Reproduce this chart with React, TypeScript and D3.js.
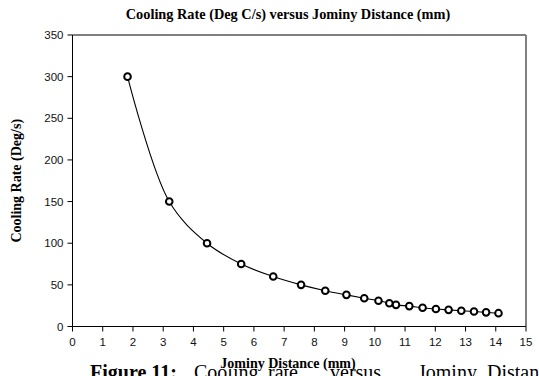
import React from "react";
import * as d3 from "d3";

const distances = [1.82, 3.2, 4.45, 5.58, 6.64, 7.56, 8.36, 9.06, 9.65, 10.12, 10.48, 10.7, 11.14, 11.58, 12.02, 12.44, 12.86, 13.28, 13.68, 14.09];
const rates = [300, 150, 100, 75, 60, 50, 43, 38, 34, 31, 28, 26, 24.5, 22.5, 21, 20, 19, 18, 17, 16];
const xTicks = d3.range(0, 16, 1);
const yTicks = d3.range(0, 351, 50);

const title = "Cooling Rate (Deg C/s) versus Jominy Distance (mm)";
const xLabel = "Jominy Distance (mm)";
const yLabel = "Cooling Rate (Deg/s)";
const captionBold = "Figure 11:";
const captionWords = ["Cooling", "rate", "versus", "Jominy", "Distance"];

export default function App() {
  const W = 539, H = 376;
  const left = 72.5, right = 526, top = 35, bottom = 326.5;
  const x = d3.scaleLinear().domain([0, 15]).range([left, right]);
  const y = d3.scaleLinear().domain([0, 350]).range([bottom, top]);
  const pts = distances.map((d, i) => [d, rates[i]] as [number, number]);
  const line = d3.line<[number, number]>().x(d => x(d[0])).y(d => y(d[1])).curve(d3.curveCatmullRom.alpha(0.5));
  const serif = "'Liberation Serif', 'Times New Roman', serif";
  const sans = "'Liberation Sans', Arial, sans-serif";
  const wordX = [194, 268, 330, 418, 487];
  return (
    <svg width={W} height={H} style={{ position: "absolute", left: 0, top: 0, background: "#fff" }}>
      <rect x={0} y={0} width={W} height={H} fill="#fff" />
      <text x={288} y={19} textAnchor="middle" fontFamily={serif} fontWeight="bold" fontSize={14.3}>{title}</text>
      <line x1={left} x2={right} y1={top} y2={top} stroke="#000" strokeWidth={1.2} />
      <line x1={right} x2={right} y1={top} y2={bottom} stroke="#808080" strokeWidth={2} />
      <line x1={left} x2={left} y1={top} y2={bottom} stroke="#000" strokeWidth={1} />
      <line x1={left} x2={right} y1={bottom} y2={bottom} stroke="#000" strokeWidth={1} />
      {xTicks.map(t => (
        <g key={"x" + t}>
          <line x1={x(t)} x2={x(t)} y1={bottom} y2={bottom + 5} stroke="#000" />
          <text x={x(t)} y={bottom + 19} textAnchor="middle" fontFamily={sans} fontSize={11.5} fill="#111">{t}</text>
        </g>
      ))}
      {yTicks.map(t => (
        <g key={"y" + t}>
          <line x1={left - 5} x2={left} y1={y(t)} y2={y(t)} stroke="#000" />
          <text x={left - 9} y={y(t) + 4} textAnchor="end" fontFamily={sans} fontSize={11.5} fill="#111">{t}</text>
        </g>
      ))}
      <path d={line(pts) || ""} fill="none" stroke="#000" strokeWidth={1.1} />
      {pts.map((p, i) => (
        <circle key={i} cx={x(p[0])} cy={y(p[1])} r={3.3} fill="#fff" stroke="#000" strokeWidth={2} />
      ))}
      <text transform={`translate(21, ${(top + bottom) / 2}) rotate(-90)`} textAnchor="middle" fontFamily={serif} fontWeight="bold" fontSize={14}>{yLabel}</text>
      <text x={90} y={379} fontFamily={serif} fontSize={20}>
        <tspan fontWeight="bold">{captionBold}</tspan>
        {captionWords.map((w, i) => <tspan key={w} x={wordX[i]}>{w}</tspan>)}
      </text>
      <rect x={226} y={357} width={124} height={12} fill="#fff" />
      <text x={288} y={368} textAnchor="middle" fontFamily={serif} fontWeight="bold" fontSize={14}>{xLabel}</text>
    </svg>
  );
}
